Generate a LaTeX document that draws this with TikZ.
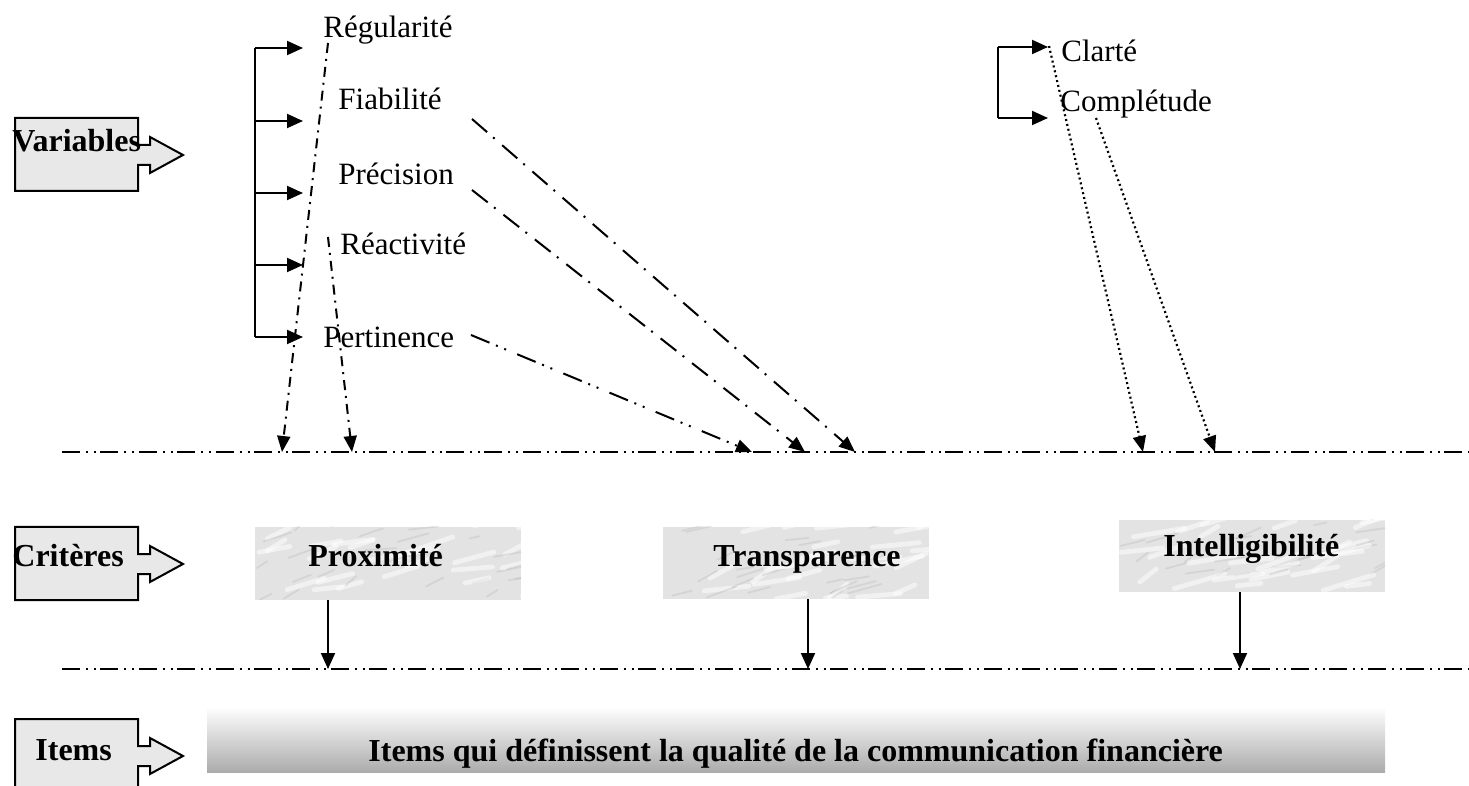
\documentclass[tikz,border=0pt]{standalone}
\usepackage{fontspec}
\setmainfont{Liberation Serif}
\usetikzlibrary{arrows.meta,positioning,calc}

\tikzset{
  varlabel/.style={anchor=base west, inner sep=0pt, font=\fontsize{15.5}{18}\selectfont},
  boldlabel/.style={anchor=base west, inner sep=0pt, font=\fontsize{16}{19}\selectfont\bfseries},
  tagbox/.style={draw=black, fill=black!9, line width=1pt},
  tagshape/.pic={
    \draw[tagbox] (0,0) -- (123,0) -- (123,27) -- (135,27) -- (135,19) -- (168,37)
      -- (135,55) -- (135,47) -- (123,47) -- (123,73) -- (0,73) -- cycle;
  },
  critbox/.style={fill=black!11, inner sep=0pt, path picture={
    \foreach \k in {1,...,26}{
      \draw[white, opacity=.5, line width=2.4pt, line cap=round]
        ($(path picture bounding box.south west)+(rnd*135pt,rnd*38pt)$) -- ++(rnd*18pt+8pt,rnd*7pt+1pt);
      \draw[black!30, opacity=.3, line width=.9pt, line cap=round]
        ($(path picture bounding box.south west)+(rnd*135pt,rnd*38pt)$) -- ++(rnd*12pt+5pt,rnd*5pt+1pt);
    }}},
  itembar/.style={top color=white, bottom color=black!33, inner sep=0pt},
  solidarrow/.style={line width=1pt, -{Triangle[length=8pt,width=7pt]}},
  guideline/.style={line width=1pt, dash pattern=on 9pt off 3pt on 1pt off 3pt on 1pt off 2.2pt},
  dashdot/.style={line width=1pt, dash pattern=on 10pt off 4pt on 1pt off 5pt, -{Triangle[length=8pt,width=6.5pt]}},
  shortdashdot/.style={line width=1pt, dash pattern=on 5pt off 3pt on 1pt off 3pt, -{Triangle[length=8pt,width=6.5pt]}},
  dashdotdot/.style={line width=1pt, dash pattern=on 10pt off 3.5pt on 1pt off 3.5pt on 1pt off 6pt, -{Triangle[length=8pt,width=6.5pt]}},
  dotline/.style={line width=1.1pt, dash pattern=on 1pt off 1.5pt, -{Triangle[length=8pt,width=6.5pt]}}
}

\begin{document}
\begin{tikzpicture}[x=0.5pt, y=-0.5pt]
\useasboundingbox (0,0) rectangle (1469,786);

% tags on the left
\pic at (15,118) {tagshape};
\pic at (15,527) {tagshape};
\pic at (15,719) {tagshape};
\node[boldlabel] (vartag) at (12,152) {Variables};
\node[boldlabel] (crittag) at (12,567) {Critères};
\node[boldlabel] (itemtag) at (35,760) {Items};

% variables
\node[varlabel] (reg) at (323,38) {Régularité};
\node[varlabel] (fia) at (338,110) {Fiabilité};
\node[varlabel] (pre) at (338,185) {Précision};
\node[varlabel] (rea) at (340,255) {Réactivité};
\node[varlabel] (per) at (323,348) {Pertinence};
\node[varlabel] (cla) at (1061,62) {Clarté};
\node[varlabel] (com) at (1060,112) {Complétude};

% brackets
\coordinate (brtop) at (255,48);
\coordinate (brbot) at (255,337);
\draw[line width=1pt] (brtop) -- (brbot);
\foreach \yy in {48,121,193,265,337}
  \draw[solidarrow] (255,\yy) -- (303,\yy);
\coordinate (cbtop) at (998,47);
\coordinate (cbbot) at (998,118);
\draw[line width=1pt] (cbtop) -- (cbbot);
\foreach \yy in {47,118}
  \draw[solidarrow] (998,\yy) -- (1048,\yy);

% guide lines
\coordinate (upw) at (62,452);
\coordinate (upe) at (1469,452);
\coordinate (loww) at (62,669);
\coordinate (lowe) at (1469,669);
\draw[guideline] (upw) -- (upe);
\draw[guideline] (loww) -- (lowe);

% connectors from the variables
\coordinate (reg-out) at (328,43);
\coordinate (rea-out) at (328,237);
\coordinate (fia-out) at (472,119);
\coordinate (pre-out) at (472,190);
\coordinate (per-out) at (471,335);
\coordinate (cla-out) at (1049,46);
\coordinate (com-out) at (1096,118);
\coordinate (reg-in) at (282,452);
\coordinate (rea-in) at (352,452);
\coordinate (per-in) at (752,452);
\coordinate (pre-in) at (805,452);
\coordinate (fia-in) at (855,452);
\coordinate (cla-in) at (1143,452);
\coordinate (com-in) at (1215,452);
\draw[shortdashdot] (reg-out) -- (reg-in);
\draw[shortdashdot] (rea-out) -- (rea-in);
\draw[dashdot] (fia-out) -- (fia-in);
\draw[dashdot] (pre-out) -- (pre-in);
\draw[dashdotdot] (per-out) -- (per-in);
\draw[dotline] (cla-out) -- (cla-in);
\draw[dotline] (com-out) -- (com-in);

% criteria
\pgfmathsetseed{11}
\node[critbox, minimum width=133pt, minimum height=36.5pt] (proxbox) at (388,563.5) {};
\node[critbox, minimum width=133pt, minimum height=36pt] (transbox) at (796,563) {};
\node[critbox, minimum width=133pt, minimum height=36pt] (intbox) at (1252,556) {};
\node[boldlabel] (prox) at (308,567) {Proximité};
\node[boldlabel] (trans) at (713,567) {Transparence};
\node[boldlabel] (intel) at (1163,556) {Intelligibilité};

\coordinate (prox-in) at (328,669);
\coordinate (trans-in) at (808,669);
\coordinate (intel-in) at (1240,669);
\draw[solidarrow] (proxbox.south -| prox-in) -- (prox-in);
\draw[solidarrow] (transbox.south -| trans-in) -- (trans-in);
\draw[solidarrow] (intbox.south -| intel-in) -- (intel-in);

% items
\node[itembar, minimum width=589pt, minimum height=33pt] (items) at (796,739.5) {};
\node[boldlabel] (itemtext) at (368,761) {Items qui définissent la qualité de la communication financière};

\end{tikzpicture}
\end{document}
